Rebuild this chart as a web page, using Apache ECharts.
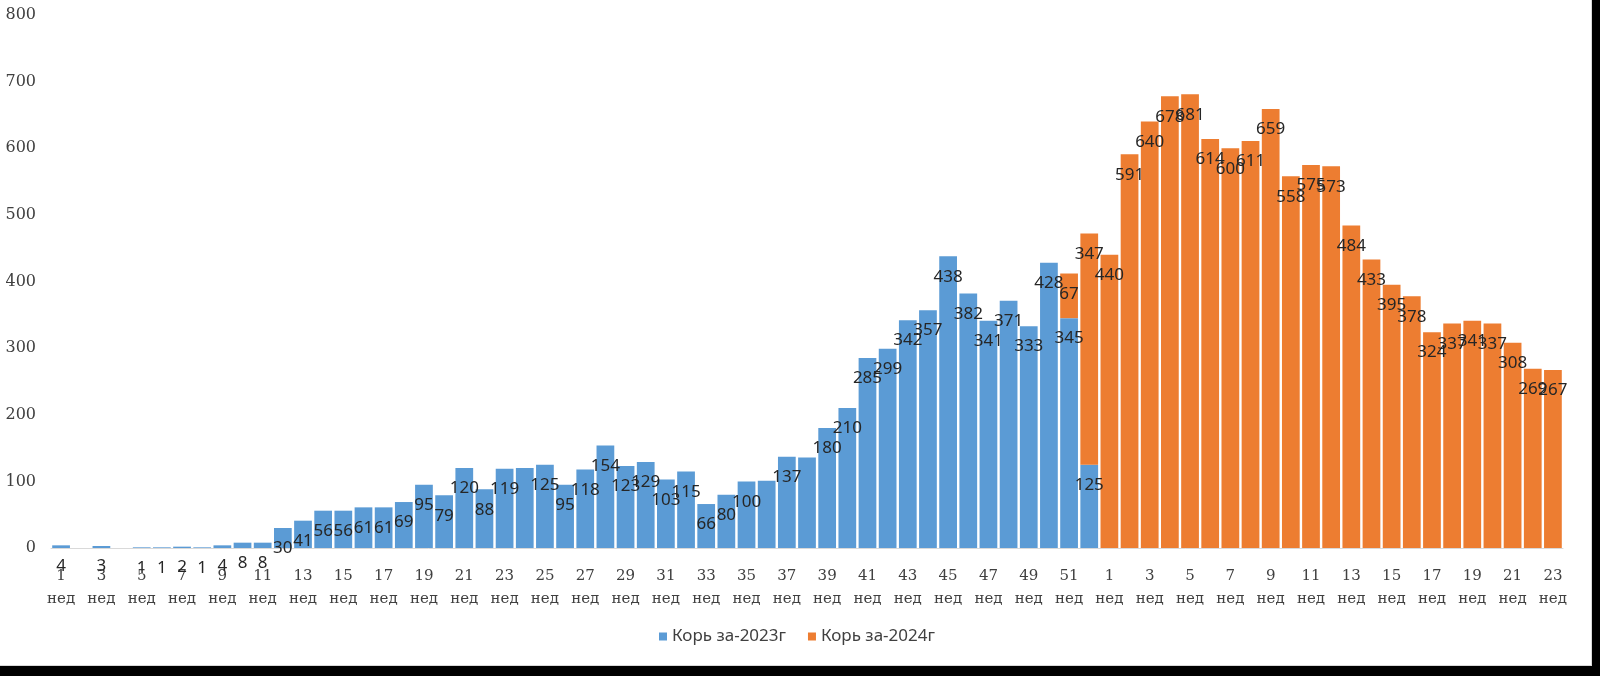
<!DOCTYPE html>
<html>
<head>
<meta charset="utf-8">
<script src="https://cdn.jsdelivr.net/npm/echarts@6/dist/echarts.min.js"></script>
<style>
  html, body { margin: 0; padding: 0; background: #000; }
  #frame { position: absolute; left: 0; top: 0; width: 1591px; height: 665px; background: #fff;
           border-right: 1px solid #d9d9d9; border-bottom: 1px solid #d9d9d9; }
  #chart { position: absolute; left: 0; top: 0; width: 1600px; height: 676px; }
</style>
</head>
<body>
<div id="frame"></div>
<div id="chart"></div>
<script>
// Week categories: 2023 weeks 1–52, then 2024 weeks 1–23
const weeks2023 = ['1 нед','2 нед','3 нед','4 нед','5 нед','6 нед','7 нед','8 нед','9 нед','10 нед',
  '11 нед','12 нед','13 нед','14 нед','15 нед','16 нед','17 нед','18 нед','19 нед','20 нед',
  '21 нед','22 нед','23 нед','24 нед','25 нед','26 нед','27 нед','28 нед','29 нед','30 нед',
  '31 нед','32 нед','33 нед','34 нед','35 нед','36 нед','37 нед','38 нед','39 нед','40 нед',
  '41 нед','42 нед','43 нед','44 нед','45 нед','46 нед','47 нед','48 нед','49 нед','50 нед',
  '51 нед','52 нед'];
const weeks2024 = ['1 нед','2 нед','3 нед','4 нед','5 нед','6 нед','7 нед','8 нед','9 нед','10 нед',
  '11 нед','12 нед','13 нед','14 нед','15 нед','16 нед','17 нед','18 нед','19 нед','20 нед',
  '21 нед','22 нед','23 нед'];

// Корь за-2023г, weeks 1–52
const values2023 = [4, null, 3, null, 1, 1, 2, 1, 4, 8,
  8, 30, 41, 56, 56, 61, 61, 69, 95, 79,
  120, 88, 119, 120, 125, 95, 118, 154, 123, 129,
  103, 115, 66, 80, 100, 101, 137, 136, 180, 210,
  285, 299, 342, 357, 438, 382, 341, 371, 333, 428,
  345, 125];
// weeks of 2023 whose bar carries no data label in the reference
const unlabeled2023 = [24, 36, 38];

// Корь за-2024г: two values stacked on 2023 weeks 51 and 52, then 2024 weeks 1–23
const spill2024 = [67, 347];
const values2024 = [440, 591, 640, 678, 681, 614, 600, 611, 659, 558,
  575, 573, 484, 433, 395, 378, 324, 337, 341, 337,
  308, 269, 267];

const yTicks = { min: 0, max: 800, interval: 100 };

const categories = weeks2023.concat(weeks2024);
const data2023 = values2023.map((v, i) =>
  unlabeled2023.includes(i + 1) ? { value: v, label: { show: false } } : v)
  .concat(weeks2024.map(() => null));
const lead = weeks2023.length - spill2024.length;
const data2024 = weeks2023.slice(0, lead).map(() => null).concat(spill2024, values2024);

const labelStyle = {
  show: true,
  position: 'insideTop',
  distance: 12,
  fontFamily: 'Noto Sans',
  fontSize: 17,
  color: '#262626'
};

const chart = echarts.init(document.getElementById('chart'), null, { renderer: 'canvas' });
chart.setOption({
  backgroundColor: 'transparent',
  animation: false,
  grid: { left: 51, right: 37, top: 15, bottom: 128, containLabel: false },
  legend: {
    bottom: 26,
    left: 654,
    icon: 'rect',
    itemWidth: 8,
    itemHeight: 8,
    itemGap: 22,
    textStyle: { fontFamily: 'Noto Sans', fontSize: 17, color: '#404040' },
    data: ['Корь за-2023г', 'Корь за-2024г']
  },
  xAxis: {
    type: 'category',
    data: categories,
    axisLine: { show: true, lineStyle: { color: '#d9d9d9', width: 1 } },
    axisTick: { show: false },
    axisLabel: {
      interval: 1,
      margin: 17,
      lineHeight: 23,
      fontFamily: 'DejaVu Serif',
      fontSize: 15,
      color: '#404040',
      formatter: v => v.replace(' ', '\n')
    }
  },
  yAxis: {
    type: 'value',
    min: yTicks.min,
    max: yTicks.max,
    interval: yTicks.interval,
    axisLine: { show: false },
    axisTick: { show: false },
    splitLine: { show: false },
    axisLabel: { margin: 15, fontFamily: 'DejaVu Serif', fontSize: 16, color: '#404040' }
  },
  series: [
    {
      name: 'Корь за-2023г',
      type: 'bar',
      stack: 'total',
      barCategoryGap: '12%',
      itemStyle: { color: '#5B9BD5' },
      label: labelStyle,
      data: data2023
    },
    {
      name: 'Корь за-2024г',
      type: 'bar',
      stack: 'total',
      barCategoryGap: '12%',
      itemStyle: { color: '#ED7D31' },
      label: labelStyle,
      data: data2024
    }
  ]
});
</script>
</body>
</html>
